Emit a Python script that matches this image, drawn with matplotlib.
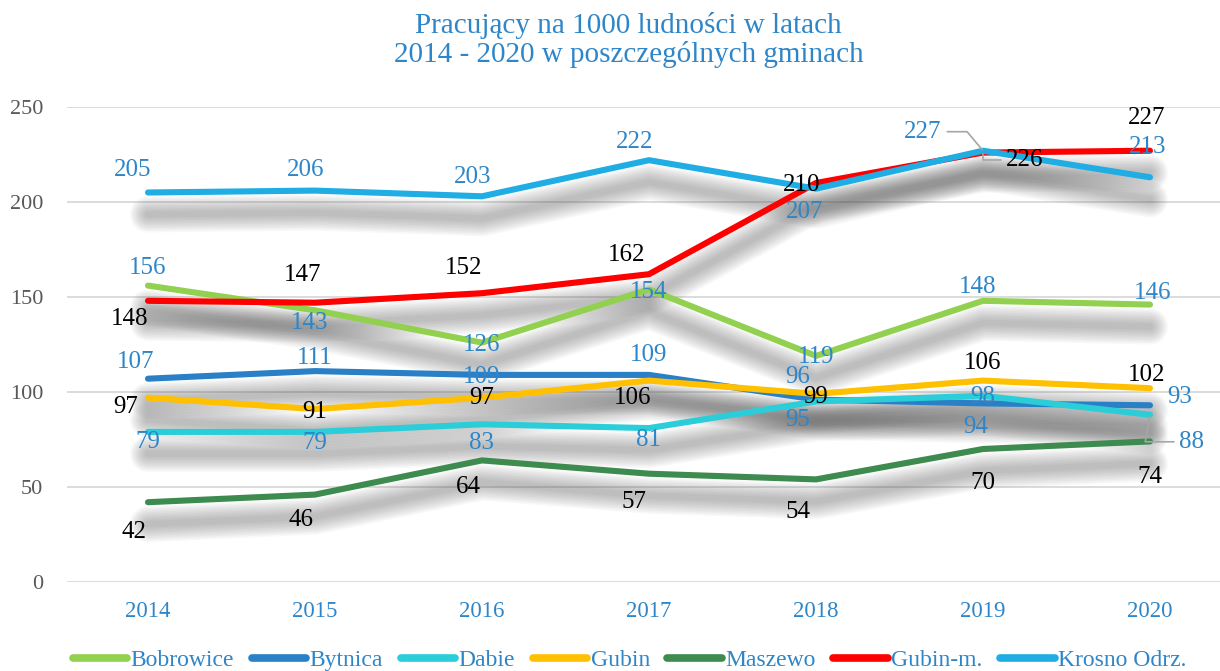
import matplotlib
matplotlib.use("Agg")
import matplotlib.pyplot as plt
from matplotlib.transforms import ScaledTranslation
import numpy as np

plt.rcParams['font.family'] = ['Liberation Serif', 'DejaVu Serif']

years = ['2014', '2015', '2016', '2017', '2018', '2019', '2020']
series_names = ['Bobrowice', 'Bytnica', 'Dabie', 'Gubin', 'Maszewo', 'Gubin-m.', 'Krosno Odrz.']
bobrowice = [156, 143, 126, 154, 119, 148, 146]
bytnica = [107, 111, 109, 109, 96, 94, 93]
dabie = [79, 79, 83, 81, 95, 98, 88]
gubin = [97, 91, 97, 106, 99, 106, 102]
maszewo = [42, 46, 64, 57, 54, 70, 74]
gubin_m = [148, 147, 152, 162, 210, 226, 227]
krosno = [205, 206, 203, 222, 207, 227, 213]
yticks = [0, 50, 100, 150, 200, 250]
title = "Pracujący na 1000 ludności w latach\n2014 - 2020 w poszczególnych gminach"

series = [bobrowice, bytnica, dabie, gubin, maszewo, gubin_m, krosno]
colors = ['#92D050', '#2A80C6', '#2ACDD8', '#FFC000', '#3E8B50', '#FF0000', '#1FADE4']
BLUE = '#2E86C8'
label_colors = [BLUE, BLUE, BLUE, 'black', 'black', 'black', BLUE]

# label offsets in pixels (dx, dy) per series, per year
offsets = [
    [(0, 18), (-5, -13), (0, -2), (0, -3), (0, -1), (-5, 14), (3, 12)],
    [(-12, 17), (0, 13), (0, -2), (0, 20), (-18, 23), (-7, -24), (30, 8)],
    [(0, -10), (0, -11), (0, -19), (0, -12), (-18, -19), (0, -1), (42, -27)],
    [(-22, -9), (0, -3), (0, 0), (-16, -17), (0, -3), (0, 18), (-3, 13)],
    [(-14, -30), (-14, -25), (-14, -27), (-15, -28), (-18, -33), (0, -34), (0, -36)],
    [(-18, -18), (-12, 28), (-18, 25), (-22, 19), (-14, -2), (42, -7), (-3, 33)],
    [(-15, 23), (-9, 21), (-9, 19), (-14, 18), (-11, -23), (-60, 19), (-2, 30)],
]
# leader lines: (series index, year index) -> angleB
leaders = {(2, 6): 80, (5, 5): 90, (6, 5): 130}

fig = plt.figure(figsize=(12.2, 6.71), dpi=100)
ax = fig.add_axes([67/1220, 1 - 582/671, 1 - 67/1220, (582 - 107)/671])
x = np.arange(len(years))
ax.set_xlim(-0.485, (1220 - 148) / 167)
ax.set_ylim(0, 250)

for s in ['top', 'right', 'bottom', 'left']:
    ax.spines[s].set_visible(False)
ax.set_yticks(yticks)
ax.set_xticks(x)
ax.set_xticklabels(years)
ax.tick_params(axis='both', length=0)
ax.tick_params(axis='y', labelsize=16, labelcolor='#595959', pad=17)
ax.tick_params(axis='x', labelsize=16.5, labelcolor=BLUE, pad=14)
ax.grid(axis='y', color='#D9D9D9', linewidth=1.3)
ax.set_axisbelow(True)

# soft shadows
shadow_tr = ax.transData + ScaledTranslation(0.0, -0.22, fig.dpi_scale_trans)
for vals in series:
    for lw in range(36, 3, -3):
        ax.plot(x, vals, color='#555555', alpha=0.04, linewidth=lw * 0.72,
                solid_capstyle='round', solid_joinstyle='round',
                transform=shadow_tr, zorder=1)

handles = []
for vals, c, name in zip(series, colors, series_names):
    h, = ax.plot(x, vals, color=c, linewidth=4.4, solid_capstyle='round',
                 solid_joinstyle='round', zorder=3, label=name)
    handles.append(h)

for si, vals in enumerate(series):
    for yi, v in enumerate(vals):
        dx, dy = offsets[si][yi]
        kw = {}
        if (si, yi) in leaders:
            kw['arrowprops'] = dict(arrowstyle='-', color='#A6A6A6', lw=1.2,
                                    shrinkA=2, shrinkB=1,
                                    connectionstyle='angle,angleA=0,angleB=%d,rad=0' % leaders[(si, yi)])
        ax.annotate(str(v), xy=(x[yi], v), xytext=(dx, dy), textcoords='offset pixels',
                    ha='center', va='center', fontsize=18, color=label_colors[si],
                    zorder=5, **kw)

fig.text((67 + 1190) / 2 / 1220, 1 - 40 / 671, title, ha='center', va='center',
         fontsize=21, color=BLUE, linespacing=1.12)

leg = fig.legend(handles=handles, loc='center', bbox_to_anchor=(0.516, 1 - 660 / 671),
                 ncol=7, frameon=False, fontsize=17, handlelength=2.3,
                 handletextpad=0.15, columnspacing=0.75, borderaxespad=0)
for t in leg.get_texts():
    t.set_color(BLUE)
for lh in leg.get_lines():
    lh.set_linewidth(5.5)
    lh.set_solid_capstyle('round')

fig.savefig('out.png', dpi=100)
